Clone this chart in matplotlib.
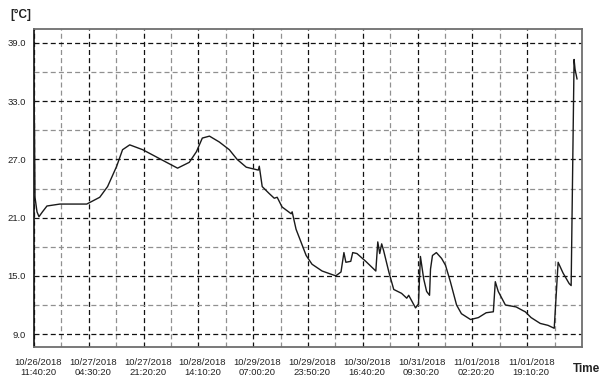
import matplotlib
matplotlib.use("Agg")
import matplotlib.pyplot as plt
import matplotlib.transforms as mtransforms
import numpy as np

plt.rcParams["font.family"] = ["Liberation Sans", "DejaVu Sans"]

# hours since 10/26/2018 11:40:20 and temperature in degC
hours = [0.0, 0.15, 0.31, 0.92, 1.53, 2.6, 3.98, 7.96, 12.0, 16.2, 20.2, 22.6,
         25.4, 27.2, 29.4, 33.4, 40.7, 44.1, 47.7, 49.9, 51.7, 53.9, 56.9, 60.0,
         62.4, 65.2, 68.9, 69.2, 70.1, 72.2, 73.8, 74.7, 76.2, 79.0, 79.3, 80.5,
         82.0, 83.6, 85.4, 88.5, 92.7, 94.3, 95.2, 95.8, 97.3, 97.9, 99.2, 101.9,
         105.0, 105.6, 106.2, 106.8, 107.4, 109.0, 110.5, 112.9, 114.5, 115.1,
         117.2, 118.1, 118.7, 119.7, 120.6, 121.5, 121.8, 122.4, 123.6, 125.2,
         126.4, 127.9, 129.8, 131.3, 134.1, 136.5, 138.9, 141.1, 141.7, 142.6,
         144.8, 148.1, 150.3, 150.9, 152.7, 155.5, 157.9, 159.8, 161.0, 162.5,
         164.4, 165.0, 165.9, 166.2, 166.8]
temps = [34.5, 30.0, 23.1, 21.6, 21.1, 21.6, 22.2, 22.4, 22.4, 22.4, 23.1, 24.2,
         26.3, 28.0, 28.5, 28.0, 26.7, 26.1, 26.7, 27.8, 29.2, 29.4, 28.8, 28.0,
         27.0, 26.2, 25.9, 26.3, 24.2, 23.5, 23.0, 23.1, 22.1, 21.4, 21.6, 19.8,
         18.5, 17.1, 16.2, 15.5, 15.0, 15.4, 17.4, 16.4, 16.5, 17.4, 17.3, 16.5,
         15.5, 18.5, 17.3, 18.3, 17.6, 15.4, 13.6, 13.2, 12.7, 13.0, 11.7, 12.1,
         17.0, 14.7, 13.4, 13.0, 15.7, 17.1, 17.4, 16.8, 16.1, 14.4, 12.0, 11.1,
         10.5, 10.7, 11.2, 11.3, 14.4, 13.4, 12.0, 11.8, 11.4, 11.3, 10.7, 10.1,
         9.9, 9.6, 16.4, 15.3, 14.2, 14.0, 37.3, 36.3, 35.3]

step = 16.0 + 50.0 / 60.0  # 16 h 50 min between labels
tick_labels = ["10/26/2018\n11:40:20", "10/27/2018\n04:30:20", "10/27/2018\n21:20:20",
               "10/28/2018\n14:10:20", "10/29/2018\n07:00:20", "10/29/2018\n23:50:20",
               "10/30/2018\n16:40:20", "10/31/2018\n09:30:20", "11/01/2018\n02:20:20",
               "11/01/2018\n19:10:20"]
y_major = [9.0, 15.0, 21.0, 27.0, 33.0, 39.0]

fig = plt.figure(figsize=(6.03, 3.79), dpi=100)
ax = fig.add_axes([34 / 603, 1 - 347 / 379, 548 / 603, 318 / 379])

ax.plot(hours, temps, color="#1a1a1a", lw=1.0, zorder=3)

ax.set_xlim(0, 10 * step)
ax.set_ylim(7.67, 40.44)

xmaj = np.arange(len(tick_labels)) * step
ax.set_xticks(xmaj)
ax.set_xticklabels(tick_labels, fontsize=6.8, linespacing=1.15, color="#222222")
ax.set_xticks(xmaj + step / 2, minor=True)
ax.set_yticks(y_major)
ax.set_yticklabels([f"{v:.1f}" for v in y_major], fontsize=6.8, color="#222222")
ax.set_yticks([v + 3 for v in y_major[:-1]], minor=True)
ax.tick_params(which="both", length=0)
ax.tick_params(axis="x", pad=8)
ax.tick_params(axis="y", pad=6)

off = mtransforms.ScaledTranslation(4 / 100, 0, fig.dpi_scale_trans)
for lbl in ax.get_xticklabels():
    lbl.set_transform(lbl.get_transform() + off)

ax.grid(which="major", color="#111111", ls=(0, (4, 2.5)), lw=0.9)
ax.grid(which="minor", color="#909090", ls=(0, (4, 2.5)), lw=0.9)

for side in ["top", "right", "bottom"]:
    ax.spines[side].set_color("#6e6e6e")
    ax.spines[side].set_linewidth(1.3)
ax.spines["left"].set_color("#111111")
ax.spines["left"].set_linewidth(1.2)

fig.text(10 / 603, 1 - 15 / 379, "[°C]", fontsize=8.5, fontweight="bold",
         color="#222222", va="center", ha="left")
fig.text(600 / 603, 1 - 369 / 379, "Time", fontsize=8.5, fontweight="bold",
         color="#222222", va="center", ha="right")

fig.savefig("out.png", dpi=100)
